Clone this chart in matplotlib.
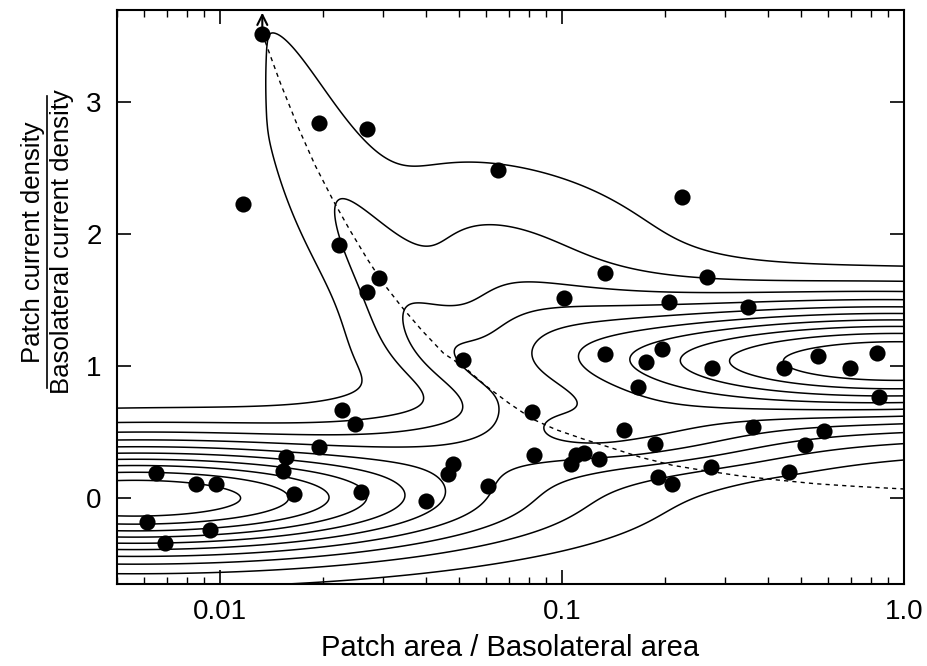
import numpy as np
import matplotlib.pyplot as plt

plt.rcParams['font.family'] = ['Liberation Sans', 'DejaVu Sans']

# measured patches: area ratio and current density ratio
area_ratio = [0.0133, 0.0117, 0.0195, 0.027, 0.065, 0.225, 0.0223, 0.0292, 0.027,
              0.1015, 0.134, 0.205, 0.266, 0.351, 0.0513, 0.134, 0.176, 0.196,
              0.167, 0.275, 0.445, 0.56, 0.695, 0.834, 0.845, 0.0817, 0.152,
              0.363, 0.582, 0.1875, 0.513, 0.0826, 0.106, 0.11, 0.116, 0.128,
              0.272, 0.46, 0.191, 0.21, 0.0228, 0.0249, 0.0195, 0.0156, 0.0153,
              0.0165, 0.0259, 0.0479, 0.0463, 0.0607, 0.0399, 0.00649, 0.0085,
              0.00973, 0.0061, 0.0069, 0.00935]
density_ratio = [3.52, 2.23, 2.84, 2.80, 2.49, 2.28, 1.92, 1.67, 1.56,
                 1.52, 1.71, 1.49, 1.68, 1.45, 1.05, 1.09, 1.03, 1.13,
                 0.84, 0.99, 0.99, 1.08, 0.99, 1.10, 0.77, 0.65, 0.52,
                 0.54, 0.51, 0.41, 0.40, 0.33, 0.26, 0.33, 0.34, 0.30,
                 0.24, 0.20, 0.16, 0.11, 0.67, 0.56, 0.39, 0.31, 0.21,
                 0.03, 0.05, 0.26, 0.18, 0.09, -0.02, 0.19, 0.11,
                 0.11, -0.18, -0.34, -0.24]

# dashed curve
curve_x = [0.0133, 0.015, 0.017, 0.019, 0.0215, 0.024, 0.027, 0.030, 0.034,
           0.039, 0.045, 0.052, 0.060, 0.070, 0.082, 0.096, 0.115, 0.14,
           0.17, 0.21, 0.26, 0.33, 0.42, 0.55, 0.72, 1.0]
curve_y = [3.52, 3.15, 2.80, 2.52, 2.25, 2.03, 1.81, 1.63, 1.45,
           1.27, 1.10, 0.99, 0.85, 0.72, 0.60, 0.52, 0.45, 0.38,
           0.31, 0.25, 0.21, 0.17, 0.14, 0.11, 0.09, 0.07]

# density surface behind the contour lines (log10 area, ratio)
contour_levels = [1, 2, 3, 4, 5, 6, 7, 8, 9, 10]
# gaussian blobs: amplitude, log-area centre / sd, ratio centre / sd
blob_amp = [11.0, 11.0, 3.2]
blob_u0 = [-2.25, 0.0, -0.9]
blob_su = [0.707, 0.70, 0.4]
blob_y0 = [0.0, 1.04, 0.45]
blob_sy = [0.31, 0.324, 0.2]
# ridge along ratio = k / area
ridge_k = 0.05
ridge_amp = 2.2
ridge_u0 = -1.5
ridge_s_left = 0.277
ridge_s_right = 0.29
ridge_width = 0.13
ridge_umin = np.log10(0.0133)
# broad shoulder on the right of the ridge
shoulder_amp = 3.1
shoulder_u0 = -1.39
shoulder_su = 0.5
shoulder_y0 = 1.5
shoulder_sy = 0.72
shoulder_gap = 0.2
shoulder_soft = 0.08

u = np.linspace(np.log10(0.005), 0.0, 800)
yv = np.linspace(-0.65, 3.7, 800)
U, Y = np.meshgrid(u, yv)
X = 10 ** U


def gauss(z, s):
    return np.exp(-0.5 * (z / s) ** 2)


def sigmoid(z):
    return 0.5 * (1 + np.tanh(0.5 * z))


F = np.zeros_like(U)
for a, u0, su, y0, sy in zip(blob_amp, blob_u0, blob_su, blob_y0, blob_sy):
    F += a * gauss(U - u0, su) * gauss(Y - y0, sy)

uc = np.log10(ridge_k / np.clip(Y, 0.01, None))
along = np.where(uc < ridge_u0, gauss(uc - ridge_u0, ridge_s_left),
                 gauss(uc - ridge_u0, ridge_s_right))
F += ridge_amp * along * gauss(U - uc, ridge_width) * sigmoid((U - ridge_umin) / 0.004)
F += (shoulder_amp * gauss(U - shoulder_u0, shoulder_su) * gauss(Y - shoulder_y0, shoulder_sy)
      * sigmoid((U - uc - shoulder_gap) / shoulder_soft))

fig = plt.figure(figsize=(9.27, 6.66), dpi=100)
ax = fig.add_axes([117 / 927, 1 - 584 / 666, 787 / 927, 574 / 666])

ax.contour(X, Y, F, levels=contour_levels, colors='k', linewidths=1.1,
           linestyles='solid')
ax.plot(curve_x, curve_y, color='k', lw=1.0, ls=(0, (3, 3)))
ax.scatter(area_ratio, density_ratio, s=135, color='k', zorder=5, linewidths=0)
ax.annotate('', xy=(area_ratio[0], 3.68), xytext=(area_ratio[0], 3.52),
            arrowprops=dict(arrowstyle='->', lw=1.5, color='k', mutation_scale=18,
                            shrinkA=0, shrinkB=0))

ax.set_xscale('log')
ax.set_xlim(0.005, 1.0)
ax.set_ylim(-0.65, 3.7)
ax.set_xticks([0.01, 0.1, 1.0])
ax.set_xticklabels(['0.01', '0.1', '1.0'])
ax.set_yticks([0, 1, 2, 3])
ax.tick_params(which='both', direction='in', top=True, right=True, labelsize=20)
ax.tick_params(which='major', length=10, width=1.2, pad=11)
ax.tick_params(which='minor', length=5, width=1.0)
for s in ax.spines.values():
    s.set_linewidth(1.5)

ax.set_xlabel('Patch area / Basolateral area', fontsize=21, labelpad=6)

fig.text(33 / 927, 1 - 242 / 666, 'Patch current density', rotation=90,
         ha='center', va='center', fontsize=18.5)
fig.text(62 / 927, 1 - 242 / 666, 'Basolateral current density', rotation=90,
         ha='center', va='center', fontsize=18.5)
fig.add_artist(plt.Line2D([47 / 927, 47 / 927], [1 - 96 / 666, 1 - 388 / 666],
                          transform=fig.transFigure, color='k', lw=1.2))

fig.savefig('out.png', dpi=100)
